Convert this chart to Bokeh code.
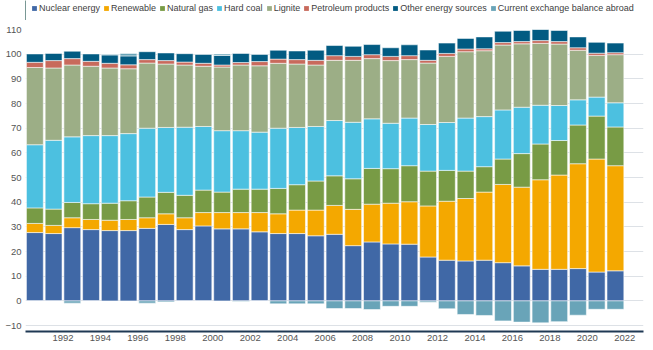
import numpy as np
from bokeh.plotting import figure
from bokeh.layouts import column
from bokeh.models import Legend, LegendItem, FixedTicker, ColumnDataSource
from bokeh.embed import file_html
from bokeh.resources import INLINE

years = list(range(1991, 2023))
nuclear = [27.7, 27.3, 29.7, 28.9, 28.5, 28.5, 29.4, 31.0, 28.9, 30.4, 29.2, 29.2, 28.0, 27.3, 27.3, 26.4, 27.0, 22.4, 23.9, 23.1, 23.0, 17.8, 16.5, 16.2, 16.5, 15.5, 14.2, 12.8, 12.8, 13.1, 11.7, 12.2]
renewable = [3.7, 3.3, 4.0, 4.1, 4.2, 4.5, 4.3, 4.3, 4.8, 5.4, 6.6, 6.6, 7.8, 8.0, 9.5, 10.4, 11.7, 14.7, 15.3, 16.5, 17.2, 20.7, 23.9, 25.3, 27.6, 31.7, 31.9, 36.3, 38.2, 42.5, 45.8, 42.6]
natural_gas = [6.3, 6.6, 6.2, 6.4, 6.9, 7.6, 8.4, 8.7, 9.1, 9.1, 8.3, 9.5, 9.5, 10.3, 10.3, 11.8, 12.0, 12.4, 14.5, 14.0, 14.6, 14.1, 12.5, 11.1, 10.3, 10.3, 13.6, 14.5, 14.0, 15.7, 17.4, 15.7]
hard_coal = [25.6, 27.9, 26.6, 27.6, 27.4, 27.2, 27.9, 26.3, 27.6, 25.8, 24.9, 23.7, 23.1, 24.4, 23.2, 22.1, 22.4, 22.9, 20.1, 18.4, 19.3, 18.9, 19.4, 21.5, 20.3, 19.9, 18.8, 15.7, 14.2, 10.2, 7.7, 9.8]
lignite = [31.3, 29.3, 29.1, 28.1, 27.4, 26.3, 26.4, 25.7, 25.2, 24.4, 25.8, 26.6, 26.9, 26.3, 25.7, 24.9, 24.4, 25.1, 24.4, 25.4, 23.7, 24.9, 26.8, 26.9, 26.7, 26.3, 25.7, 25.1, 24.9, 20.1, 16.9, 19.5]
petroleum = [2.1, 3.0, 2.6, 2.0, 1.9, 1.6, 1.4, 1.4, 1.2, 1.2, 0.8, 1.0, 1.7, 1.7, 1.8, 1.9, 1.9, 1.6, 1.6, 1.7, 1.6, 1.1, 1.2, 1.1, 0.8, 1.0, 0.9, 1.1, 1.0, 1.0, 0.9, 0.8]
other = [3.4, 2.9, 3.0, 3.0, 3.4, 3.6, 3.2, 3.1, 3.4, 3.6, 3.9, 3.7, 2.9, 3.6, 3.5, 4.1, 4.1, 4.1, 4.1, 3.5, 4.4, 4.2, 4.2, 4.3, 4.8, 4.6, 4.5, 4.6, 4.5, 4.4, 4.4, 3.9]
exchange = [0.0, 0.0, -0.9, 0.0, 0.3, 1.0, -0.9, -0.4, 0.0, 0.0, 0.6, -0.2, 0.0, -1.2, -1.2, -1.2, -3.1, -3.1, -3.5, -2.2, -2.2, -0.5, -3.2, -5.5, -5.9, -8.1, -8.6, -8.9, -8.4, -5.8, -3.4, -3.4]

labels = ["Nuclear energy", "Renewable", "Natural gas", "Hard coal", "Lignite",
          "Petroleum products", "Other energy sources", "Current exchange balance abroad"]
colors = ["#4068A6", "#F4A800", "#789B45", "#4CC0E0", "#9CAE86", "#C86A5C", "#025B82", "#69A4B8"]
tick_years = list(range(1992, 2023, 2))

keys = ["nuclear", "renewable", "gas", "hard", "lignite", "petro", "other"]
series = [nuclear, renewable, natural_gas, hard_coal, lignite, petroleum, other]
data = {"x": [y - 0.5 for y in years]}
for k, s in zip(keys, series):
    data[k] = s
src = ColumnDataSource(data)

tot = np.sum(np.array(series), axis=0)
ex = np.array(exchange)
ex_bottom = np.where(ex > 0, tot, 0.0)
ex_top = np.where(ex > 0, tot + ex, ex)
ex_src = ColumnDataSource({"x": data["x"], "bottom": ex_bottom, "top": ex_top})

# ---- main chart ----
p = figure(width=653, height=330, output_backend="svg", toolbar_location=None,
           x_range=(1990, 2023), y_range=(-12.4, 110),
           min_border_left=25, min_border_right=10, min_border_top=9, min_border_bottom=19)
p.outline_line_color = None

bw = 0.9
p.vbar_stack(keys, x="x", width=bw, source=src, color=colors[:7],
             line_color="white", line_width=1, line_alpha=0.55)
p.vbar(x="x", bottom="bottom", top="top", width=bw, source=ex_src,
       fill_color=colors[7], line_color="white", line_width=1, line_alpha=0.55)

p.xgrid.grid_line_color = None
p.ygrid.grid_line_color = "#DDE1E6"
p.ygrid.grid_line_width = 1
p.yaxis.ticker = FixedTicker(ticks=list(range(-10, 111, 10)))
p.xaxis.ticker = FixedTicker(ticks=tick_years)

for ax in (p.xaxis, p.yaxis):
    ax.major_tick_line_color = None
    ax.minor_tick_line_color = None
    ax.major_tick_out = 0
    ax.major_tick_in = 0
    ax.minor_tick_out = 0
    ax.minor_tick_in = 0
    ax.major_label_text_font = "Liberation Sans"
    ax.major_label_text_font_size = "9.5px"
    ax.major_label_text_color = "#555555"
p.yaxis.axis_line_color = None
p.yaxis.major_label_standoff = 4
p.xaxis.axis_line_color = "#1F3954"
p.xaxis.axis_line_width = 2
p.xaxis.major_label_standoff = 3

# ---- legend strip ----
lg = figure(width=653, height=20, output_backend="svg", toolbar_location=None,
            x_range=(0, 1), y_range=(0, 1), x_axis_type=None, y_axis_type=None,
            min_border=0, min_border_left=0, min_border_right=0,
            min_border_top=0, min_border_bottom=0)
lg.outline_line_color = None
lg.xgrid.grid_line_color = None
lg.ygrid.grid_line_color = None
items = []
for lab, c in zip(labels, colors):
    r = lg.vbar(x=[-5], top=[1], width=0.5, fill_color=c, line_color=None)
    items.append(LegendItem(label=lab, renderers=[r]))
legend = Legend(items=items, orientation="horizontal", location=(6, 6),
                padding=0, margin=0, spacing=3, label_standoff=2,
                glyph_width=6, glyph_height=6, label_height=12,
                label_text_font="Liberation Sans", label_text_font_size="9px",
                label_text_color="#404040", background_fill_alpha=0, border_line_alpha=0)
lg.add_layout(legend, "center")

layout = column(lg, p, spacing=0)
open("out.html", "w").write(file_html(layout, INLINE))
